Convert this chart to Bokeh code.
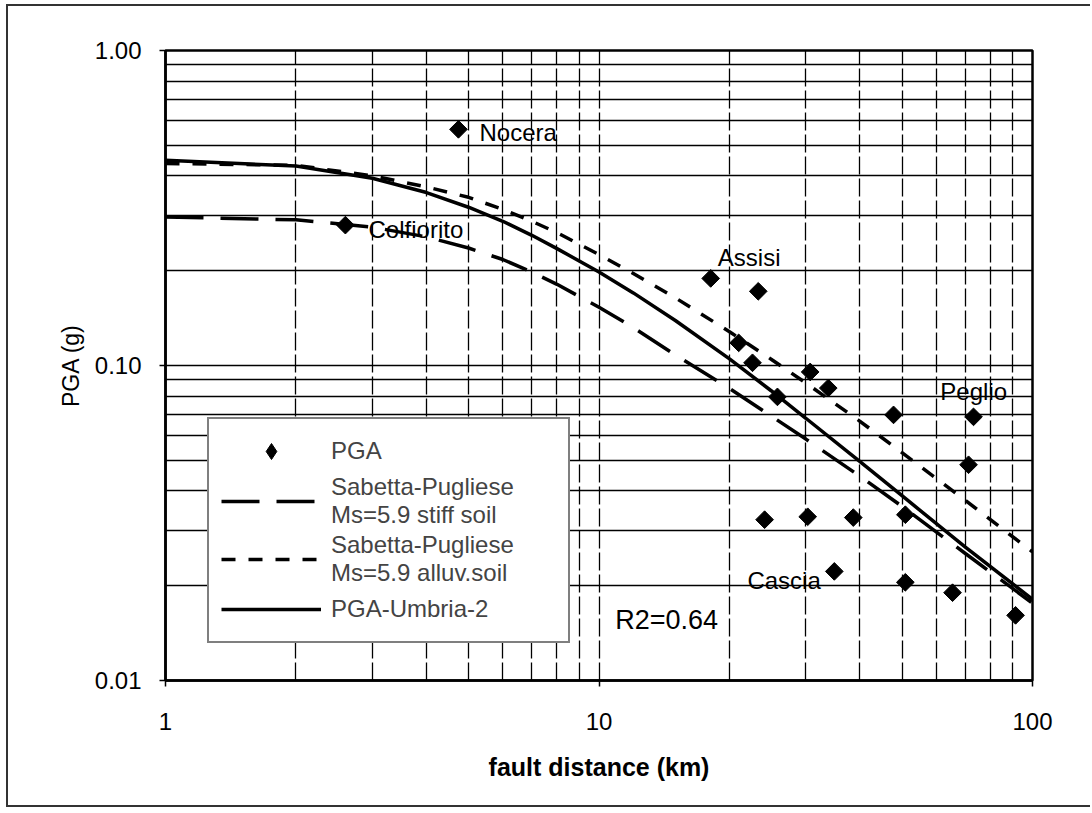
from bokeh.plotting import figure
from bokeh.models import Range1d, FixedTicker, PrintfTickFormatter, Legend, LegendItem, ColumnDataSource
from bokeh.embed import file_html
from bokeh.resources import INLINE
from bokeh.core.properties import value

# ---- data ----
pga_dist = [4.74, 2.60, 18.1, 23.3, 21.0, 22.6, 30.7, 33.8, 25.8, 47.8,
            73.1, 71.2, 24.1, 30.3, 38.6, 50.9, 34.9, 50.9, 65.4, 91.4]
pga_val = [0.562, 0.279, 0.189, 0.172, 0.118, 0.102, 0.0954, 0.0848, 0.0795, 0.0697,
           0.0687, 0.0484, 0.0324, 0.0331, 0.0329, 0.0336, 0.0222, 0.0205, 0.0190, 0.0161]

curve_dist = [1, 2, 3, 4, 5, 6, 7, 8, 10, 12, 15, 20, 25, 30, 40, 50, 70, 100]
umbria2 = [0.448, 0.430, 0.393, 0.354, 0.318, 0.287, 0.259, 0.235, 0.198, 0.170,
           0.139, 0.105, 0.083, 0.068, 0.0495, 0.0386, 0.0265, 0.0181]
sp_stiff = [0.296, 0.290, 0.275, 0.256, 0.236, 0.217, 0.198, 0.181, 0.153, 0.132,
            0.108, 0.0845, 0.0690, 0.0584, 0.0445, 0.0357, 0.0253, 0.0176]
sp_alluv = [0.438, 0.432, 0.400, 0.369, 0.342, 0.313, 0.287, 0.264, 0.225, 0.196,
            0.164, 0.128, 0.1045, 0.088, 0.0665, 0.0529, 0.0373, 0.0256]

site_names = ["Nocera", "Colfiorito", "Assisi", "Peglio", "Cascia"]
site_x = [5.3, 2.94, 18.8, 61.3, 22.0]
site_y = [0.55, 0.271, 0.221, 0.0825, 0.0208]
r2_text = ["R2=0.64"]
r2_x = [10.9]
r2_y = [0.0156]

x_ticks = [1, 10, 100]
y_ticks = [0.01, 0.1, 1.0]
x_minor = [m * d for d in (1, 10) for m in range(2, 10)]
y_minor = [m * d for d in (0.01, 0.1) for m in range(2, 10)]

FONT = "Liberation Sans"

p = figure(width=1084, height=803, x_axis_type="log", y_axis_type="log",
           x_range=Range1d(1, 100), y_range=Range1d(0.01, 1.0),
           output_backend="svg", toolbar_location=None,
           min_border_left=157, min_border_right=60, min_border_top=44, min_border_bottom=129,
           x_axis_label="fault distance (km)", y_axis_label="PGA (g)")
p.margin = (4, 0, 0, 6)
p.styles = {"border-left": "2px solid #333", "border-top": "2px solid #333",
            "border-bottom": "2px solid #333"}

p.outline_line_color = "black"
p.outline_line_width = 2.5
p.background_fill_color = "white"
p.border_fill_color = "white"

# axes
p.xaxis.ticker = FixedTicker(ticks=x_ticks, minor_ticks=x_minor)
p.yaxis.ticker = FixedTicker(ticks=y_ticks, minor_ticks=y_minor)
p.xaxis.formatter = PrintfTickFormatter(format="%d")
p.yaxis.formatter = PrintfTickFormatter(format="%.2f")
for ax in (p.xaxis, p.yaxis):
    ax.axis_line_color = "black"
    ax.axis_line_width = 2.5
    ax.major_tick_out = 6
    ax.major_tick_in = 0
    ax.major_tick_line_color = "black"
    ax.major_tick_line_width = 1.5
    ax.minor_tick_line_color = None
    ax.major_label_text_font = FONT
    ax.major_label_text_font_size = "24px"
    ax.major_label_text_color = "black"
    ax.axis_label_text_font = FONT
    ax.axis_label_text_color = "black"
p.xaxis.major_label_standoff = 26
p.yaxis.major_label_standoff = 18
p.xaxis.axis_label_text_font_style = "bold"
p.xaxis.axis_label_text_font_size = "25px"
p.xaxis.axis_label_standoff = 20
p.yaxis.axis_label_text_font_style = "normal"
p.yaxis.axis_label_text_font_size = "23px"
p.yaxis.axis_label_standoff = 8

# grid
p.xgrid.ticker = p.xaxis.ticker
p.ygrid.ticker = p.yaxis.ticker
p.xgrid.grid_line_color = "black"
p.xgrid.grid_line_width = 1.3
p.xgrid.grid_line_dash = "18 4"
p.xgrid.minor_grid_line_color = "black"
p.xgrid.minor_grid_line_width = 1.3
p.xgrid.minor_grid_line_dash = "18 4"
p.ygrid.grid_line_color = "black"
p.ygrid.grid_line_width = 1.4
p.ygrid.minor_grid_line_color = "black"
p.ygrid.minor_grid_line_width = 1.4

# curves
src = ColumnDataSource(dict(x=curve_dist, umb=umbria2, stiff=sp_stiff, alluv=sp_alluv))
r_stiff = p.line("x", "stiff", source=src, line_color="black", line_width=3.5, line_dash="38 17")
r_alluv = p.line("x", "alluv", source=src, line_color="black", line_width=3.5, line_dash="14 13")
r_umb = p.line("x", "umb", source=src, line_color="black", line_width=3.5)

# points: a small diamond renderer (used as legend key) hidden under rotated squares
pts_src = ColumnDataSource(dict(x=pga_dist, y=pga_val))
r_key = p.scatter("x", "y", source=pts_src, marker="diamond", size=8,
                  fill_color="black", line_color="black")
p.scatter("x", "y", source=pts_src, marker="square", size=12.5, angle=0.785,
          fill_color="black", line_color="black")

# site labels
lab_src = ColumnDataSource(dict(x=site_x, y=site_y, t=site_names))
p.text("x", "y", text="t", source=lab_src, text_font=value(FONT), text_font_size="24px",
       text_baseline="middle", text_align="left", text_color="black")
r2_src = ColumnDataSource(dict(x=r2_x, y=r2_y, t=r2_text))
p.text("x", "y", text="t", source=r2_src, text_font=value(FONT), text_font_size="27px",
       text_baseline="middle", text_align="left", text_color="black")

legend = Legend(items=[
    LegendItem(label="PGA", renderers=[r_key]),
    LegendItem(label="Sabetta-Pugliese\nMs=5.9 stiff soil", renderers=[r_stiff]),
    LegendItem(label="Sabetta-Pugliese\nMs=5.9 alluv.soil", renderers=[r_alluv]),
    LegendItem(label="PGA-Umbria-2", renderers=[r_umb]),
], location=(42, 37))
legend.label_text_font = FONT
legend.label_text_font_size = "24px"
legend.label_text_line_height = 1.25
legend.glyph_width = 100
legend.glyph_height = 40
legend.label_standoff = 10
legend.label_width = 225
legend.padding = 12
legend.spacing = 2
legend.margin = 0
legend.border_line_color = "black"
legend.border_line_width = 2
legend.background_fill_color = "white"
legend.background_fill_alpha = 1.0
p.add_layout(legend)

open("out.html", "w").write(file_html(p, INLINE))
